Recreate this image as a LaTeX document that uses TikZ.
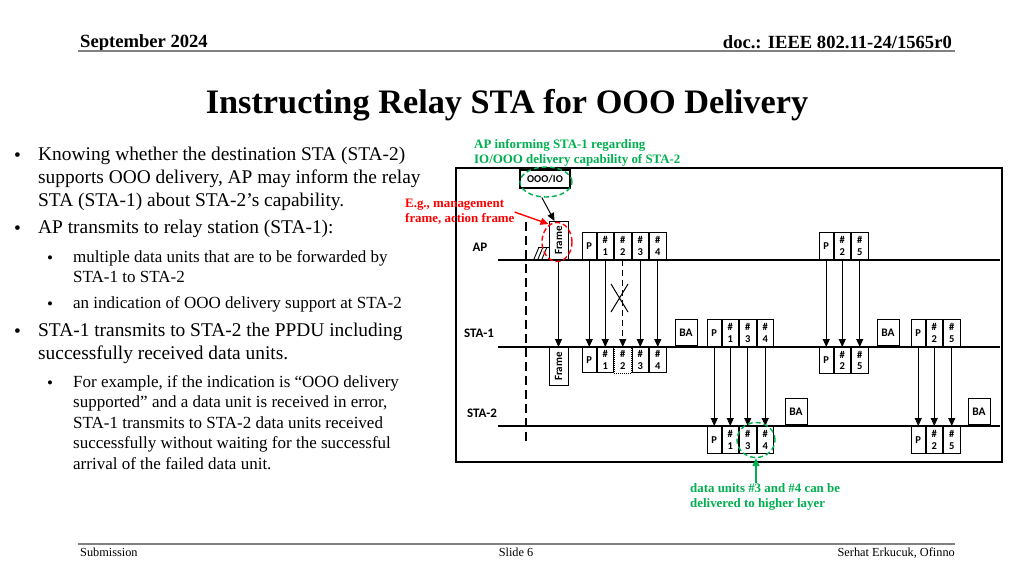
\documentclass[tikz,border=0pt]{standalone}
\usepackage{fontspec}
\setmainfont{Liberation Serif}
\newfontfamily\calfont{Carlito}
\usepackage{tikz}
\usetikzlibrary{arrows.meta,positioning,calc,shapes.geometric}
\usepackage{xcolor}
\definecolor{infogreen}{HTML}{00B050}
\definecolor{hintred}{HTML}{FF0000}
\definecolor{rulegray}{HTML}{808080}

\begin{document}
\begin{tikzpicture}[x=1pt, y=-1pt,
    lbl/.style={font=\calfont\bfseries\fontsize{13}{14}\selectfont, inner sep=0},
    unit/.style={draw, line width=1pt, minimum width=16.5pt, minimum height=27pt, inner sep=0, align=center, font=\calfont\bfseries\fontsize{10.5}{11.5}\selectfont},
    pre/.style={unit, minimum width=13.5pt},
    ack/.style={unit, minimum width=22pt, minimum height=26pt, font=\calfont\bfseries\fontsize{11.5}{12}\selectfont},
    frm/.style={unit, minimum width=19pt, minimum height=38pt, font=\calfont\bfseries\fontsize{11}{12}\selectfont},
    arr/.style={-{Triangle[length=8pt,width=7pt]}, line width=1pt},
    ring/.style={ellipse, draw, dash pattern=on 5pt off 3pt, line width=1.4pt, inner sep=0},
    bodytext/.style={anchor=north west, inner sep=0, align=left, font=\fontsize{19.4}{23}\selectfont},
    subtext/.style={anchor=north west, inner sep=0, align=left, font=\fontsize{17}{20.5}\selectfont},
    dotmark/.style={anchor=base west, inner sep=0, font=\fontsize{19.4}{23}\selectfont},
    subdotmark/.style={anchor=base west, inner sep=0, font=\fontsize{17}{20.5}\selectfont},
    note/.style={anchor=north west, inner sep=0, align=left, font=\bfseries\fontsize{12.9}{15.3}\selectfont}]
  \useasboundingbox (0,0) rectangle (1024,576);

  % header and footer
  \node[anchor=base west, inner sep=0, font=\bfseries\fontsize{18.6}{20}\selectfont] (month) at (80,47) {September 2024};
  \node[anchor=base east, inner sep=0, font=\bfseries\fontsize{18.6}{20}\selectfont] (docid) at (952,48) {doc.: IEEE 802.11-24/1565r0};
  \draw[rulegray, line width=1.8pt] (78,51) -- (955,51);
  \node[anchor=base, inner sep=0, font=\bfseries\fontsize{34.3}{38}\selectfont] (title) at (507,113) {Instructing Relay STA for OOO Delivery};
  \draw[rulegray, line width=1.8pt] (78,544) -- (955,544);
  \node[anchor=base west, inner sep=0, font=\fontsize{12.3}{14}\selectfont] (submission) at (80,556) {Submission};
  \node[anchor=base, inner sep=0, font=\fontsize{12.3}{14}\selectfont] (slideno) at (516,556) {Slide 6};
  \node[anchor=base east, inner sep=0, font=\fontsize{12.3}{14}\selectfont] (author) at (955,556) {Serhat Erkucuk, Ofinno};

  % bullet text
  \node[dotmark] (dot1) at (14,161) {•};
  \node[bodytext] (item1) at (38,147) {Knowing whether the destination STA (STA-2)\\supports OOO delivery, AP may inform the relay\\STA (STA-1) about STA-2’s capability.};
  \node[dotmark] (dot2) at (14,234) {•};
  \node[bodytext] (item2) at (38,220) {AP transmits to relay station (STA-1):};
  \node[subdotmark] (dot3) at (47,263) {•};
  \node[subtext] (item3) at (73,250) {multiple data units that are to be forwarded by\\STA-1 to STA-2};
  \node[subdotmark] (dot4) at (47,309) {•};
  \node[subtext] (item4) at (73,296) {an indication of OOO delivery support at STA-2};
  \node[dotmark] (dot5) at (14,337) {•};
  \node[bodytext] (item5) at (38,323) {STA-1 transmits to STA-2 the PPDU including\\successfully received data units.};
  \node[subdotmark] (dot6) at (47,388) {•};
  \node[subtext] (item6) at (73,375) {For example, if the indication is “OOO delivery\\supported” and a data unit is received in error,\\STA-1 transmits to STA-2 data units received\\successfully without waiting for the successful\\arrival of the failed data unit.};

  % diagram frame and timelines
  \draw[line width=1.8pt] (456,168) rectangle (1002,462);
  \coordinate (apL) at (498,260);  \coordinate (apR) at (1000,260);
  \coordinate (s1L) at (498,347);  \coordinate (s1R) at (1000,347);
  \coordinate (s2L) at (498,426);  \coordinate (s2R) at (1000,426);
  \draw[line width=1.2pt] (apL) -- (apR);
  \draw[line width=1.2pt] (s1L) -- (s1R);
  \draw[line width=1.2pt] (s2L) -- (s2R);
  \draw[line width=1.2pt, dash pattern=on 9pt off 5pt] (526,222) -- (526,442);
  \node[lbl] (aplbl) at (480,247) {AP};
  \node[lbl] (s1lbl) at (479,333) {STA-1};
  \node[lbl] (s2lbl) at (482,413) {STA-2};

  % hatch before the frame
  \draw[line width=0.9pt] (538,247) -- (549,247);
  \draw[line width=0.9pt] (534,259) -- (539,247) (538,259) -- (543,247) (542,259) -- (547,247);

  % AP transmissions
  \node[frm, anchor=south] (apFrame) at (558.5,260) {\rotatebox{90}{Frame}};
  \node[pre, anchor=south west] (apP) at (582,260) {P};
  \node[unit, right=0pt of apP] (ap1) {\#\\1};
  \node[unit, right=0pt of ap1] (ap2) {\#\\2};
  \node[unit, right=0pt of ap2] (ap3) {\#\\3};
  \node[unit, right=0pt of ap3] (ap4) {\#\\4};
  \node[pre, anchor=south west] (apPb) at (819,260) {P};
  \node[unit, right=0pt of apPb] (ap2b) {\#\\2};
  \node[unit, right=0pt of ap2b] (ap5) {\#\\5};

  % STA-1 receptions
  \node[frm, anchor=north] (s1Frame) at (558.5,347) {\rotatebox{90}{Frame}};
  \node[pre, anchor=north west, minimum height=25pt] (s1P) at (582,347) {P};
  \node[unit, minimum height=25pt, right=0pt of s1P] (s1r1) {\#\\1};
  \node[unit, minimum height=25pt, draw=none, right=0pt of s1r1] (s1r2) {\#\\2};
  \node[unit, minimum height=25pt, right=0pt of s1r2] (s1r3) {\#\\3};
  \node[unit, minimum height=25pt, right=0pt of s1r3] (s1r4) {\#\\4};
  \draw[line width=1pt, densely dotted] (s1r2.north west) -- (s1r2.south west) -- (s1r2.south east) -- (s1r2.north east);
  \node[pre, anchor=north west, minimum height=26pt] (s1Pb) at (819,347) {P};
  \node[unit, minimum height=26pt, right=0pt of s1Pb] (s1r2b) {\#\\2};
  \node[unit, minimum height=26pt, right=0pt of s1r2b] (s1r5) {\#\\5};

  \draw[arr] (apFrame) -- (s1Frame);
  \draw[arr] (apP) -- (s1P);
  \draw[arr] (ap1) -- (s1r1);
  \draw[arr, dash pattern=on 6pt off 4pt] (ap2) -- (s1r2);
  \draw[arr] (ap3) -- (s1r3);
  \draw[arr] (ap4) -- (s1r4);
  \draw[arr] (apPb) -- (s1Pb);
  \draw[arr] (ap2b) -- (s1r2b);
  \draw[arr] (ap5) -- (s1r5);
  \draw[line width=1pt] (611,284) -- (628,312) (628,284) -- (611,312);

  % STA-1 transmissions
  \node[ack, anchor=south] (s1BA) at (686,346) {BA};
  \node[pre, anchor=south west] (s1tP) at (707,347) {P};
  \node[unit, right=0pt of s1tP] (s1t1) {\#\\1};
  \node[unit, right=0pt of s1t1] (s1t3) {\#\\3};
  \node[unit, right=0pt of s1t3] (s1t4) {\#\\4};
  \node[ack, anchor=south] (s1BAb) at (888,346) {BA};
  \node[pre, anchor=south west] (s1tPb) at (911,347) {P};
  \node[unit, right=0pt of s1tPb] (s1t2) {\#\\2};
  \node[unit, right=0pt of s1t2] (s1t5) {\#\\5};

  % STA-2 receptions
  \node[pre, anchor=north west] (s2P) at (707,426) {P};
  \node[unit, right=0pt of s2P] (s2r1) {\#\\1};
  \node[unit, right=0pt of s2r1] (s2r3) {\#\\3};
  \node[unit, right=0pt of s2r3] (s2r4) {\#\\4};
  \node[ack, anchor=south] (s2BA) at (796,425) {BA};
  \node[pre, anchor=north west] (s2Pb) at (911,426) {P};
  \node[unit, right=0pt of s2Pb] (s2r2) {\#\\2};
  \node[unit, right=0pt of s2r2] (s2r5) {\#\\5};
  \node[ack, anchor=south] (s2BAb) at (979,425) {BA};

  \draw[arr] (s1tP) -- (s2P);
  \draw[arr] (s1t1) -- (s2r1);
  \draw[arr] (s1t3) -- (s2r3);
  \draw[arr] (s1t4) -- (s2r4);
  \draw[arr] (s1tPb) -- (s2Pb);
  \draw[arr] (s1t2) -- (s2r2);
  \draw[arr] (s1t5) -- (s2r5);

  % annotations
  \node[draw, line width=1.3pt, minimum width=50pt, minimum height=18pt, inner sep=0, font=\calfont\bfseries\fontsize{10.5}{11}\selectfont] (oooio) at (545,179) {OOO/IO};
  \node[ring, infogreen, minimum width=52pt, minimum height=30pt] (ioring) at (546,182) {};
  \node[ring, hintred, minimum width=30pt, minimum height=39pt] (framering) at (557,242) {};
  \node[ring, infogreen, minimum width=38pt, minimum height=35pt] (unitring) at (756,440) {};
  \draw[arr] (ioring.-105) -- ([xshift=-4pt]apFrame.north);
  \node[note, text=infogreen] (informtxt) at (474,139) {AP informing STA-1 regarding\\IO/OOO delivery capability of STA-2};
  \node[note, text=hintred] (egtxt) at (405,199) {E.g., management\\frame, action frame};
  \draw[arr, hintred, line width=1.4pt] (egtxt.east) -- ([yshift=-3pt]apFrame.north west);
  \node[note, text=infogreen] (delivtxt) at (690,483) {data units \#3 and \#4 can be\\delivered to higher layer};
  \draw[arr, infogreen, line width=1.4pt] (delivtxt.north -| unitring.south) -- (unitring.south);
\end{tikzpicture}
\end{document}
